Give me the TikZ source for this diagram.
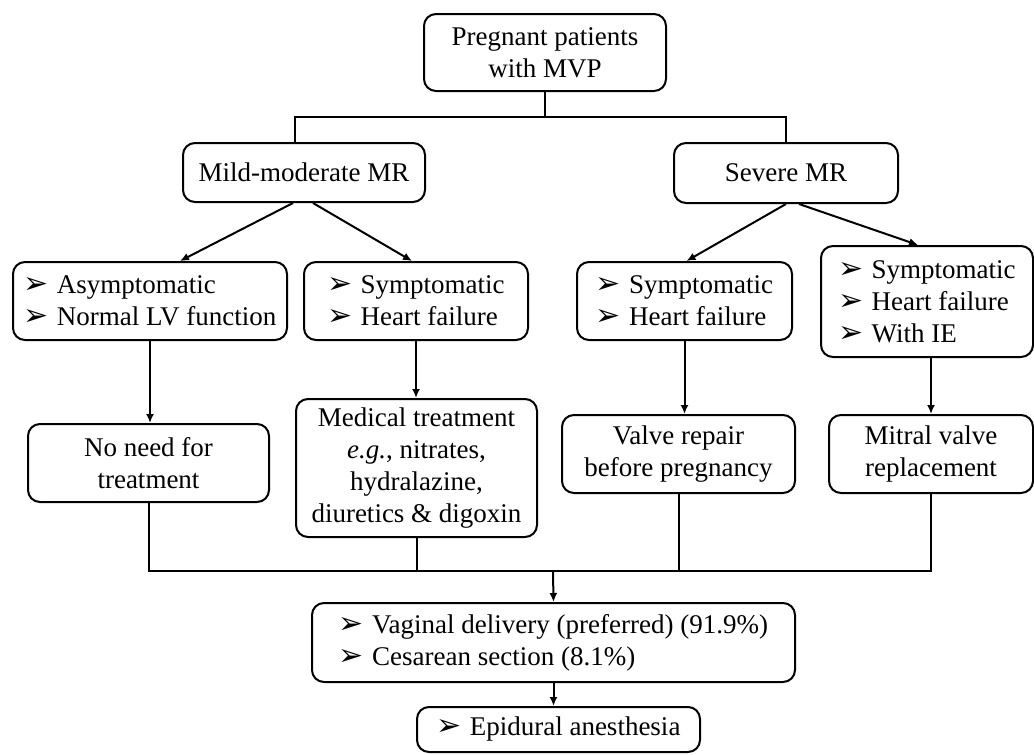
\documentclass[tikz,border=0pt]{standalone}
\usepackage{fontspec}
\setmainfont{Liberation Serif}
\newfontfamily\bulfont{DejaVu Sans}
\usetikzlibrary{arrows.meta}
\def\bul{{\bulfont\fontsize{15}{15}\selectfont ➢}\hspace{0.3em}}
\tikzset{
	box/.style={draw, line width=1pt, rounded corners=6pt, inner sep=0pt, align=center,
		font=\fontsize{13.5}{16}\selectfont},
	listbox/.style={box, align=left},
	link/.style={line width=1pt},
	arr/.style={link, -{Latex[length=4.5pt, width=4pt]}}
}

\begin{document}
\begin{tikzpicture}[x=0.5pt, y=-0.5pt]
		%%%%% START %%%%%
		\useasboundingbox (0, 0) rectangle (1034, 755);
		
		\node[box, minimum width=121pt, minimum height=38.5pt] (patients) at (545, 52.5) {Pregnant patients\\with MVP};
		\node[box, minimum width=121pt, minimum height=29.5pt] (mild) at (304, 172.5) {Mild-moderate MR};
		\node[box, minimum width=112pt, minimum height=30pt] (severe) at (786, 173) {Severe MR};
		
		\node[listbox, minimum width=137pt, minimum height=39pt] (asym) at (150, 301) {\bul Asymptomatic\\\bul Normal LV function};
		\node[listbox, minimum width=112pt, minimum height=39pt] (sympmild) at (416, 301) {\bul Symptomatic\\\bul Heart failure};
		\node[listbox, minimum width=107.5pt, minimum height=39pt] (sympsev) at (684.5, 301) {\bul Symptomatic\\\bul Heart failure};
		\node[listbox, minimum width=106pt, minimum height=55.5pt] (sympie) at (927, 301.5) {\bul Symptomatic\\\bul Heart failure\\\bul With IE};
		
		\node[box, minimum width=120.5pt, minimum height=39pt] (noneed) at (148.5, 463) {No need for\\treatment};
		\node[box, minimum width=120.5pt, minimum height=69pt] (medical) at (416.5, 468) {Medical treatment\\\emph{e.g.}, nitrates,\\hydralazine,\\diuretics \& digoxin};
		\node[box, minimum width=116.5pt, minimum height=39pt] (repair) at (678.5, 454) {Valve repair\\before pregnancy};
		\node[box, minimum width=102pt, minimum height=39pt] (mitral) at (931, 454) {Mitral valve\\replacement};
		
		\node[listbox, minimum width=241.5pt, minimum height=39.5pt] (delivery) at (553.5, 642.5) {\bul Vaginal delivery (preferred) (91.9\%)\\\bul Cesarean section (8.1\%)};
		\node[listbox, minimum width=141.5pt, minimum height=22.5pt] (epidural) at (558.5, 729.5) {\bul Epidural anesthesia};
		
		\coordinate (split) at (545, 117);
		\coordinate (merge) at (553, 571);
		
		\draw[link] (patients.south) -- (split);
		\draw[link] ([xshift=-4.5pt]mild.north) |- (split) -| (severe.north);
		
		\draw[arr] ([xshift=-5.5pt]mild.south) -- ([xshift=15pt]asym.north);
		\draw[arr] ([xshift=4.5pt]mild.south) -- ([xshift=-2pt]sympmild.north);
		\draw[arr] (severe.south) -- ([xshift=1pt]sympsev.north);
		\draw[arr] ([xshift=6.5pt]severe.south) -- ([xshift=-4.5pt]sympie.north);
		
		\draw[arr] (asym.south) -- (asym.south |- noneed.north);
		\draw[arr] (sympmild.south) -- (sympmild.south |- medical.north);
		\draw[arr] (sympsev.south) -- (sympsev.south |- repair.north);
		\draw[arr] (mitral.north |- sympie.south) -- (mitral.north);
		
		\draw[link] (noneed.south) |- (merge -| mitral.south) -- (mitral.south);
		\draw[link] (medical.south) -- (medical.south |- merge);
		\draw[link] (repair.south) -- (repair.south |- merge);
		\draw[arr] (merge) -- (delivery.north);
		\draw[arr] (delivery.south) -- (delivery.south |- epidural.north);
		
		%%%%% END %%%%%
\end{tikzpicture}
\end{document}
